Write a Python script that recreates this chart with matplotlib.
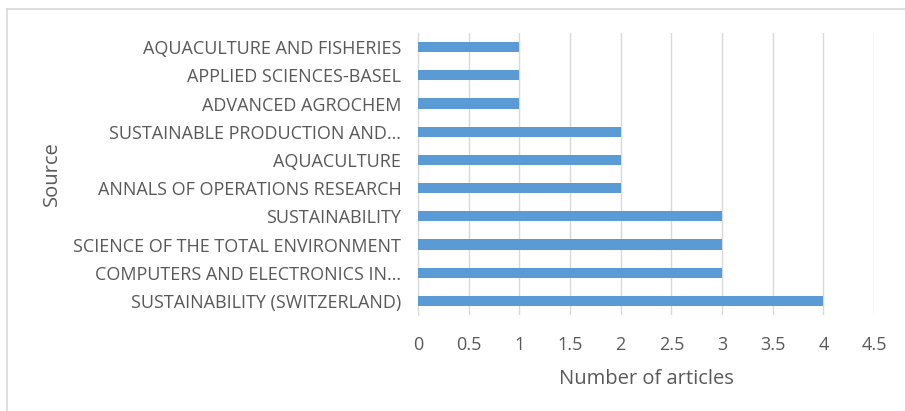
import matplotlib.pyplot as plt
from matplotlib.lines import Line2D

plt.rcParams['font.family'] = ['Open Sans', 'DejaVu Sans']

# Sources, listed bottom to top as drawn
sources = [
    "SUSTAINABILITY (SWITZERLAND)",
    "COMPUTERS AND ELECTRONICS IN…",
    "SCIENCE OF THE TOTAL ENVIRONMENT",
    "SUSTAINABILITY",
    "ANNALS OF OPERATIONS RESEARCH",
    "AQUACULTURE",
    "SUSTAINABLE PRODUCTION AND…",
    "ADVANCED AGROCHEM",
    "APPLIED SCIENCES-BASEL",
    "AQUACULTURE AND FISHERIES",
]
articles = [4, 3, 3, 3, 2, 2, 2, 1, 1, 1]
xticks = [0, 0.5, 1, 1.5, 2, 2.5, 3, 3.5, 4, 4.5]
xtick_labels = ["0", "0.5", "1", "1.5", "2", "2.5", "3", "3.5", "4", "4.5"]

text_color = '#595959'
grid_color = '#D9D9D9'

fig = plt.figure(figsize=(9.05, 4.11), dpi=100)
ax = fig.add_axes([0.4619, 0.2336, 0.5039, 0.686])

ax.barh(range(len(sources)), articles, height=0.36, color='#5B9BD5', zorder=3)

ax.set_xlim(0, 4.5)
ax.set_ylim(-0.5, len(sources) - 0.5)
ax.set_xticks(xticks)
ax.set_xticklabels(xtick_labels)
ax.set_yticks(range(len(sources)))
ax.set_yticklabels(sources)

ax.tick_params(axis='both', length=0, labelsize=13, colors=text_color)
ax.tick_params(axis='y', pad=12)
ax.tick_params(axis='x', pad=15)

ax.grid(axis='x', color=grid_color, linewidth=1, zorder=0)
for s in ['top', 'right', 'bottom']:
    ax.spines[s].set_visible(False)
ax.spines['left'].set_color(grid_color)

ax.set_xlabel('Number of articles', fontsize=14.5, color=text_color, labelpad=11)
fig.text(0.057, 0.577, 'Source', rotation=90, fontsize=14.5, color=text_color,
         ha='center', va='center')

# chart frame (only top and left edges visible)
top = 1 - 9 / 411
left = 7 / 905
fig.lines.append(Line2D([left, 1], [top, top], transform=fig.transFigure,
                        color=grid_color, linewidth=1.2))
fig.lines.append(Line2D([left, left], [0, top], transform=fig.transFigure,
                        color=grid_color, linewidth=1.2))

plt.savefig('out.png', dpi=100)
